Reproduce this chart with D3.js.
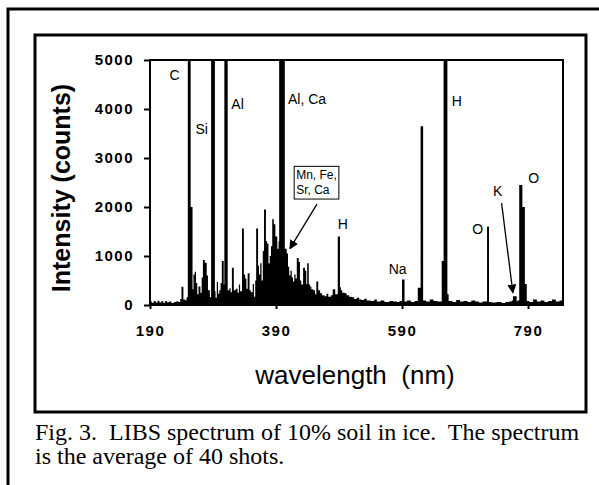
<!DOCTYPE html>
<html>
<head>
<meta charset="utf-8">
<script src="https://cdn.jsdelivr.net/npm/d3@7"></script>
<style>
    body { margin: 0; background: #fff; }
    svg { display: block; }
    .tick text { font-family: "Liberation Sans", Arial, sans-serif; font-weight: bold; font-size: 15px; letter-spacing: 1.5px; fill: #000; }
    .peak-label { font-family: "Liberation Sans", Arial, sans-serif; font-size: 14px; fill: #000; }
    .caption { font-family: "Liberation Serif", "Times New Roman", serif; font-size: 24px; fill: #000; }
</style>
</head>
<body>
<div id="chart"></div>
<script>
// spectrum (step curve: value holds until next wavelength)
var wavelengths = [
    190, 193, 196, 199, 202, 205, 208, 211, 214, 217, 221, 224, 228, 232, 235, 238, 240, 243, 246, 248,
    250, 254.5, 257.5, 259, 261, 263, 265, 267, 270, 272, 274, 277, 280, 282, 285, 287, 293, 294, 296, 298,
    300, 302, 304, 307, 308, 313.3, 316, 318, 320, 323, 326, 329, 331, 333, 336, 339, 341, 343, 345, 348,
    350, 353, 355, 357, 358.5, 361.5, 363, 365, 367, 369, 371, 374, 376, 378, 380, 382, 384, 386.5, 389, 392,
    394, 395, 404, 407, 409, 411, 413, 415, 417, 419, 421, 423, 426, 428, 430, 433, 436, 438, 439.5, 442,
    444, 446, 449, 452, 454, 457, 460, 463, 467, 470, 473, 477, 480, 484, 488, 491.5, 493, 495, 499, 502,
    506, 510, 514, 518, 522, 526, 530, 534, 540, 546, 550, 556, 562, 570, 576, 582, 586, 590, 594, 598,
    604, 610, 615, 619.5, 623.5, 628, 634, 640, 646, 653, 656, 662, 664, 670, 676, 682, 688, 694, 700, 706,
    712, 718, 725, 728, 732, 740, 748, 754, 760, 764, 766, 772, 773, 776, 781, 785, 788, 792, 798, 804,
    810, 816, 822, 828, 834, 840, 845.5
];
var counts = [
    70, 45, 80, 50, 85, 50, 75, 45, 80, 55, 70, 40, 60, 75, 60, 120, 370, 110, 90, 160,
    6000, 2000, 320, 620, 680, 450, 220, 380, 250, 560, 920, 860, 600, 300, 160, 6000, 280, 150, 470, 230,
    300, 450, 900, 420, 6000, 300, 340, 260, 760, 300, 330, 250, 420, 280, 1560, 620, 540, 330, 650, 300,
    260, 430, 170, 500, 1560, 800, 620, 850, 500, 1100, 1950, 1300, 1250, 850, 1000, 1200, 1750, 1650, 1400, 1150,
    1300, 6000, 1150, 1050, 780, 600, 700, 560, 480, 620, 540, 960, 880, 500, 420, 760, 700, 430, 850, 420,
    380, 320, 300, 220, 480, 300, 240, 200, 180, 230, 170, 200, 320, 220, 1400, 360, 300, 250, 240, 200,
    170, 160, 120, 150, 110, 100, 130, 90, 80, 110, 70, 90, 60, 80, 70, 60, 80, 520, 70, 90,
    60, 80, 350, 3650, 90, 70, 110, 80, 70, 900, 6000, 220, 80, 60, 100, 70, 80, 60, 90, 70,
    50, 70, 1600, 60, 50, 60, 40, 60, 70, 90, 180, 70, 90, 2450, 2000, 430, 80, 60, 110, 70,
    90, 60, 80, 110, 70, 90, 90
];

var yTicks = [0, 1000, 2000, 3000, 4000, 5000];
var xTicks = [190, 390, 590, 790];

// peak annotations, in data units (wavelength nm, counts)
var labelNames = ["C", "Si", "Al", "Al, Ca", "H", "Na", "H", "O", "K", "O"];
var labelWl = [229, 272, 329, 409, 496, 583, 677, 710, 742, 799];
var labelCounts = [4700, 3600, 4100, 4200, 1650, 740, 4160, 1550, 2330, 2600];

var boxLines = ["Mn, Fe,", "Sr, Ca"];
var boxWl = 422;
var boxCounts = [2650, 2350];
var arrows = [
    { from: [455, 2060], to: [412, 1150] },
    { from: [748, 2080], to: [766, 250] }
];

var captionLines = [
    "Fig. 3.  LIBS spectrum of 10% soil in ice.  The spectrum",
    "is the average of 40 shots."
];

var svg = d3.select("#chart")
    .append("svg")
    .attr("width", 599)
    .attr("height", 485);

// outer page frame and inner figure box
svg.append("path")
    .attr("d", "M8,490V9H610")
    .attr("fill", "none")
    .attr("stroke", "#000")
    .attr("stroke-width", 3);

svg.append("rect")
    .attr("x", 35).attr("y", 35)
    .attr("width", 551).attr("height", 377)
    .attr("fill", "none")
    .attr("stroke", "#000")
    .attr("stroke-width", 3);

var x = d3.scaleLinear().domain([190, 845.5]).range([150, 563]);
var y = d3.scaleLinear().domain([0, 5000]).range([305, 60]);

svg.append("defs").append("clipPath")
    .attr("id", "plot-clip")
    .append("rect")
    .attr("x", 150).attr("y", 60)
    .attr("width", 413).attr("height", 245);

var spectrum = wavelengths.map(function (w, i) { return [w, counts[i]]; });

var area = d3.area()
    .x(function (d) { return x(d[0]); })
    .y0(y(0))
    .y1(function (d) { return y(d[1]); })
    .curve(d3.curveStepAfter);

svg.append("path")
    .datum(spectrum)
    .attr("clip-path", "url(#plot-clip)")
    .attr("d", area)
    .attr("fill", "#000");

// plot frame
svg.append("rect")
    .attr("x", 150).attr("y", 60)
    .attr("width", 413).attr("height", 245)
    .attr("fill", "none")
    .attr("stroke", "#000")
    .attr("stroke-width", 2);

var yAxis = svg.append("g")
    .attr("transform", "translate(150,0)")
    .call(d3.axisLeft(y).tickValues(yTicks).tickSize(6).tickPadding(10).tickFormat(d3.format("d")));
yAxis.select(".domain").remove();
yAxis.selectAll("line").attr("stroke-width", 2);

var xAxis = svg.append("g")
    .attr("transform", "translate(0,305)")
    .call(d3.axisBottom(x).tickValues(xTicks).tickSize(4).tickPadding(16).tickFormat(d3.format("d")));
xAxis.select(".domain").remove();
xAxis.selectAll("line").attr("stroke-width", 2);

svg.append("text")
    .attr("transform", "translate(70,188) rotate(-90)")
    .attr("text-anchor", "middle")
    .style("font-family", "'Liberation Sans', Arial, sans-serif")
    .style("font-size", "25px")
    .style("font-weight", "bold")
    .text("Intensity (counts)");

svg.append("text")
    .attr("x", 355)
    .attr("y", 384)
    .attr("text-anchor", "middle")
    .style("font-family", "'Liberation Sans', Arial, sans-serif")
    .style("font-size", "26px")
    .style("white-space", "pre")
    .text("wavelength  (nm)");

// peak labels
svg.selectAll("text.peak-label")
    .data(labelNames)
    .enter().append("text")
    .attr("class", "peak-label")
    .attr("x", function (d, i) { return x(labelWl[i]); })
    .attr("y", function (d, i) { return y(labelCounts[i]); })
    .attr("dy", "0.35em")
    .attr("text-anchor", function (d) { return d === "Al, Ca" ? "start" : "middle"; })
    .text(function (d) { return d; });

// boxed label for the dense region
var boxText = svg.append("g");
boxText.selectAll("text")
    .data(boxLines)
    .enter().append("text")
    .attr("class", "peak-label")
    .style("font-size", "12px")
    .attr("x", x(boxWl))
    .attr("y", function (d, i) { return y(boxCounts[i]); })
    .attr("dy", "0.35em")
    .text(function (d) { return d; });
var bb = boxText.node().getBBox();
svg.append("rect")
    .attr("x", bb.x - 2).attr("y", bb.y - 2)
    .attr("width", bb.width + 4).attr("height", bb.height + 4)
    .attr("fill", "none")
    .attr("stroke", "#000")
    .attr("stroke-width", 1);

svg.select("defs").append("marker")
    .attr("id", "arrowhead")
    .attr("viewBox", "0 0 10 10")
    .attr("refX", 9).attr("refY", 5)
    .attr("markerWidth", 7).attr("markerHeight", 7)
    .attr("orient", "auto")
    .append("path")
    .attr("d", "M0,0L10,5L0,10z")
    .attr("fill", "#000");

svg.selectAll("line.arrow")
    .data(arrows)
    .enter().append("line")
    .attr("class", "arrow")
    .attr("x1", function (d) { return x(d.from[0]); })
    .attr("y1", function (d) { return y(d.from[1]); })
    .attr("x2", function (d) { return x(d.to[0]); })
    .attr("y2", function (d) { return y(d.to[1]); })
    .attr("stroke", "#000")
    .attr("stroke-width", 1.3)
    .attr("marker-end", "url(#arrowhead)");

// caption below the figure box
svg.selectAll("text.caption")
    .data(captionLines)
    .enter().append("text")
    .attr("class", "caption")
    .attr("x", 35)
    .attr("y", function (d, i) { return 440 + i * 24; })
    .style("white-space", "pre")
    .text(function (d) { return d; });
</script>
</body>
</html>
